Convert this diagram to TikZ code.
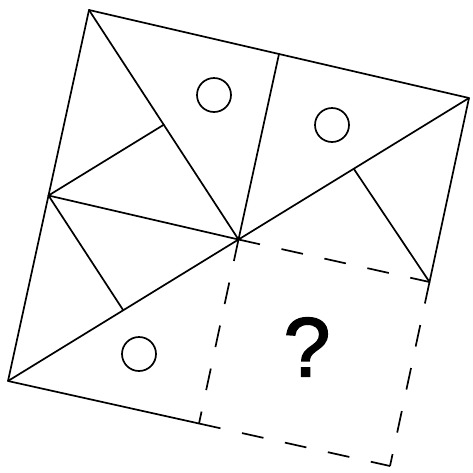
\documentclass[tikz,border=0pt]{standalone}
\usepackage{fontspec}
\setmainfont{Liberation Sans}
\newfontfamily\qmarkfont[FakeBold=2]{Liberation Sans}
\usetikzlibrary{calc}
\begin{document}
\begin{tikzpicture}[x=1pt,y=-1pt,
  solidline/.style={line width=1.7pt, line cap=round, line join=round},
  dashline/.style={line width=1.7pt, dash pattern=on 22pt off 22pt},
  mark circle/.style={circle, draw, line width=1.7pt, minimum size=34pt, inner sep=0pt}]
\useasboundingbox (0,0) rectangle (473,472);
\coordinate (A) at (89,10);
\coordinate (B) at (469,98);
\coordinate (C) at (8,381);
\coordinate (D) at (390,466);
\coordinate (O) at (238.5,239.5);
\coordinate (T) at ($(A)!0.5!(B)$);
\coordinate (M) at ($(A)!0.5!(C)$);
\coordinate (R) at ($(B)!0.5!(D)$);
\coordinate (Bm) at ($(C)!0.5!(D)$);
\coordinate (AO) at ($(A)!0.5!(O)$);
\coordinate (OB) at ($(O)!0.5!(B)$);
\coordinate (CO) at ($(C)!0.5!(O)$);
% outer solid edges
\draw[solidline] (Bm) -- (C) -- (A) -- (B) -- (R);
% interior lines
\draw[solidline] (A) -- (O);
\draw[solidline] (T) -- (O);
\draw[solidline] (M) -- (O);
\draw[solidline] (M) -- (AO);
\draw[solidline] (C) -- (B);
\draw[solidline] (OB) -- (R);
\draw[solidline] (M) -- (CO);
% dashed missing quadrant
\draw[dashline] (O) -- (R);
\draw[dashline] (O) -- (Bm);
\draw[dashline] (R) -- (D);
\draw[dashline] (Bm) -- (D);
% circles
\node[mark circle] (c1) at (214,95) {};
\node[mark circle] (c2) at (332,125) {};
\node[mark circle] (c3) at (139,354) {};
% question mark
\node (q) at (307,347) {\qmarkfont\fontsize{84}{84}\selectfont ?};
\end{tikzpicture}
\end{document}
